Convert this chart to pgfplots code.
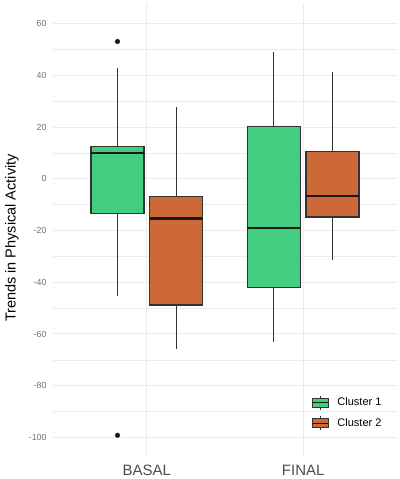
\documentclass[border=0pt]{standalone}
\usepackage{pgfplots}
\pgfplotsset{compat=1.18}
\usepackage{fontspec}
\setmainfont{Liberation Sans}
\definecolor{cOne}{HTML}{43CD80}
\definecolor{cTwo}{HTML}{CD6839}
\definecolor{gridc}{HTML}{EBEBEB}
\definecolor{tickc}{HTML}{707070}
\definecolor{xtickc}{HTML}{4D4D4D}
\definecolor{boxc}{HTML}{333333}
\begin{document}
\begin{tikzpicture}
\begin{axis}[
  name=ax,
  scale only axis,
  width=344pt, height=453.7pt,
  xmin=0.4, xmax=2.6,
  ymin=-107.5, ymax=68.1,
  axis line style={draw=none},
  clip=false,
  xtick={1,2}, xticklabels={BASAL,FINAL},
  ytick={-100,-80,-60,-40,-20,0,20,40,60},
  minor ytick={-90,-70,-50,-30,-10,10,30,50},
  major tick length=0pt, minor tick length=0pt,
  tick style={draw=none},
  ymajorgrids, xmajorgrids, yminorgrids,
  major grid style={gridc, line width=1pt},
  minor grid style={gridc, line width=0.6pt},
  /pgf/number format/assume math mode=true,
  yticklabel style={font=\fontsize{8.8}{10}\selectfont, text=tickc, xshift=-3pt},
  xticklabel style={font=\fontsize{15}{16}\selectfont, text=xtickc, yshift=-5pt},
  ylabel={Trends in Physical Activity},
  ylabel style={at={(rel axis cs:0,0.482)}, anchor=center, yshift=41pt, font=\fontsize{14.5}{16}\selectfont},
  legend style={at={(rel axis cs:0.752,0.136)}, anchor=north west, draw=none, fill=none,
    inner sep=0pt, row sep=6pt, font=\fontsize{11}{12}\selectfont,
    nodes={inner sep=0pt},
    /tikz/every odd column/.append style={column sep=8.4pt}},
  legend cell align=left,
]
% BASAL, Cluster 1: draw position 0.8125
\addplot[boxc, line width=1.2pt, forget plot] coordinates {(0.8125,12.5) (0.8125,42.9)};
\addplot[boxc, line width=1.2pt, forget plot] coordinates {(0.8125,-13.5) (0.8125,-45.3)};
\addplot[fill=cOne, draw=boxc, line width=1.3pt, forget plot] coordinates {(0.64375,-13.5) (0.98125,-13.5) (0.98125,12.5) (0.64375,12.5)} --cycle;
\addplot[black!90, line width=2.6pt, forget plot] coordinates {(0.64375,10.1) (0.98125,10.1)};
\addplot[only marks, mark=*, mark size=2.3pt, black!90, forget plot] coordinates {(0.8125,53.2) (0.8125,-99.2)};
% BASAL, Cluster 2: draw position 1.1875
\addplot[boxc, line width=1.2pt, forget plot] coordinates {(1.1875,-6.8) (1.1875,28.0)};
\addplot[boxc, line width=1.2pt, forget plot] coordinates {(1.1875,-48.8) (1.1875,-65.8)};
\addplot[fill=cTwo, draw=boxc, line width=1.3pt, forget plot] coordinates {(1.01875,-48.8) (1.35625,-48.8) (1.35625,-6.8) (1.01875,-6.8)} --cycle;
\addplot[black!90, line width=2.6pt, forget plot] coordinates {(1.01875,-15.4) (1.35625,-15.4)};
% FINAL, Cluster 1: draw position 1.8125
\addplot[boxc, line width=1.2pt, forget plot] coordinates {(1.8125,20.2) (1.8125,49.0)};
\addplot[boxc, line width=1.2pt, forget plot] coordinates {(1.8125,-41.9) (1.8125,-63.2)};
\addplot[fill=cOne, draw=boxc, line width=1.3pt, forget plot] coordinates {(1.64375,-41.9) (1.98125,-41.9) (1.98125,20.2) (1.64375,20.2)} --cycle;
\addplot[black!90, line width=2.6pt, forget plot] coordinates {(1.64375,-19.0) (1.98125,-19.0)};
% FINAL, Cluster 2: draw position 2.1875
\addplot[boxc, line width=1.2pt, forget plot] coordinates {(2.1875,10.6) (2.1875,41.4)};
\addplot[boxc, line width=1.2pt, forget plot] coordinates {(2.1875,-14.7) (2.1875,-31.4)};
\addplot[fill=cTwo, draw=boxc, line width=1.3pt, forget plot] coordinates {(2.01875,-14.7) (2.35625,-14.7) (2.35625,10.6) (2.01875,10.6)} --cycle;
\addplot[black!90, line width=2.6pt, forget plot] coordinates {(2.01875,-6.6) (2.35625,-6.6)};
\addlegendimage{legend image code/.code={
  \draw[boxc, line width=0.8pt] (7.8pt,-7pt) -- (7.8pt,7pt);
  \filldraw[fill=cOne, draw=boxc, line width=1pt] (0pt,-4.5pt) rectangle (15.6pt,4.5pt);
  \draw[black!90, line width=1.6pt] (0pt,0pt) -- (15.6pt,0pt);}}
\addlegendentry{Cluster 1}
\addlegendimage{legend image code/.code={
  \draw[boxc, line width=0.8pt] (7.8pt,-7pt) -- (7.8pt,7pt);
  \filldraw[fill=cTwo, draw=boxc, line width=1pt] (0pt,-4.5pt) rectangle (15.6pt,4.5pt);
  \draw[black!90, line width=1.6pt] (0pt,0pt) -- (15.6pt,0pt);}}
\addlegendentry{Cluster 2}
\end{axis}
\pgfresetboundingbox
\path ([shift={(-53pt,-22.3pt)}]ax.south west) rectangle ([shift={(3pt,3pt)}]ax.north east);
\end{tikzpicture}
\end{document}
